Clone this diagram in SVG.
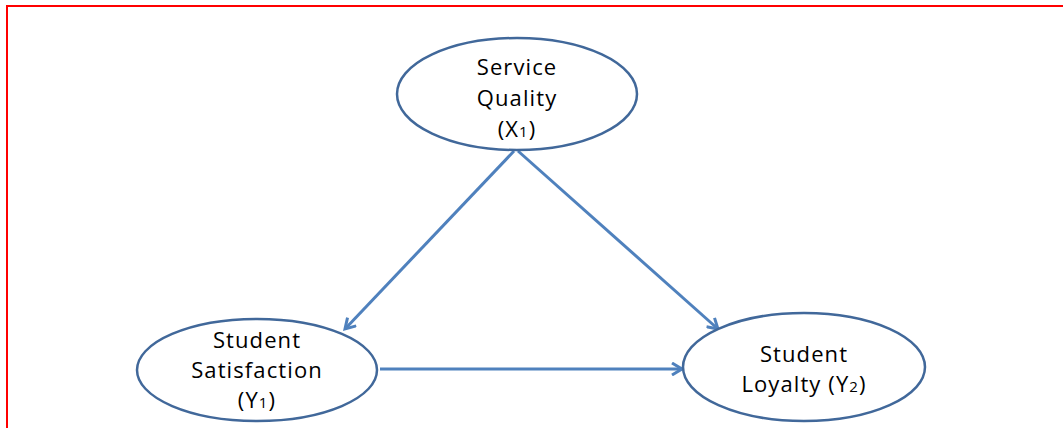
<svg xmlns="http://www.w3.org/2000/svg" width="1063" height="428" viewBox="0 0 1063 428">
<style>
.node{fill:#ffffff;stroke:#41689A;stroke-width:2.5}
.lbl{font-family:"Open Sans","DejaVu Sans",sans-serif;font-size:22px;fill:#000000;text-anchor:middle;letter-spacing:1.1px}
.sub{font-size:15px}
.edge{stroke:#4F81BD;stroke-width:3;fill:none;marker-end:url(#arr)}
</style>
<defs>
<marker id="arr" markerWidth="14" markerHeight="14" refX="11" refY="7" orient="auto" markerUnits="userSpaceOnUse" viewBox="0 0 14 14">
<path d="M1,1 L11,7 L1,13" fill="none" stroke="#4F81BD" stroke-width="3"/>
</marker>
</defs>
<rect x="7" y="6" width="1070" height="440" fill="none" stroke="#FF0000" stroke-width="2"/>
<g id="connectors">
<path class="edge" d="M514,151 L345,329"/>
<path class="edge" d="M518,151 L718,329"/>
<path class="edge" d="M380,369 L682,369"/>
</g>
<g id="service-quality">
<ellipse class="node" cx="517" cy="94" rx="120" ry="56"/>
<text class="lbl" x="517" y="75">Service</text>
<text class="lbl" x="517" y="106">Quality</text>
<text class="lbl" x="517" y="137">(X<tspan class="sub">1</tspan>)</text>
</g>
<g id="student-satisfaction">
<ellipse class="node" cx="257" cy="370" rx="120" ry="51"/>
<text class="lbl" x="257" y="348">Student</text>
<text class="lbl" x="257" y="378">Satisfaction</text>
<text class="lbl" x="257" y="408">(Y<tspan class="sub">1</tspan>)</text>
</g>
<g id="student-loyalty">
<ellipse class="node" cx="804" cy="367" rx="121" ry="54"/>
<text class="lbl" x="804" y="362">Student</text>
<text class="lbl" x="804" y="392">Loyalty (Y<tspan class="sub">2</tspan>)</text>
</g>
</svg>
